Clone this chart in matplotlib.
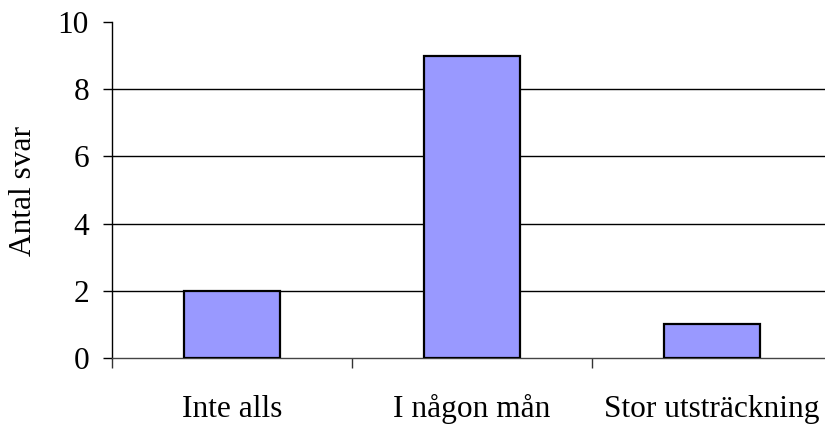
import matplotlib
matplotlib.use("Agg")
import matplotlib.pyplot as plt

categories = ["Inte alls", "I någon mån", "Stor utsträckning"]
values = [2, 9, 1]
yticks = [0, 2, 4, 6, 8, 10]

plt.rcParams["font.family"] = ["Liberation Serif", "DejaVu Serif"]
FS = 22.6

W, H = 825, 428
fig = plt.figure(figsize=(W / 100, H / 100), dpi=100)
ax = fig.add_axes([112 / W, 70 / H, 720 / W, 336 / H])

x = range(len(categories))
ax.bar(x, values, width=0.4, color="#9999FF", edgecolor="black", linewidth=1.6, zorder=3)

ax.set_xlim(-0.5, len(categories) - 0.5)
ax.set_ylim(0, 10)
ax.set_yticks(yticks)
for y in yticks[1:-1]:
    ax.axhline(y, color="black", linewidth=1.0, zorder=1)

ax.set_xticks(x)
ax.set_xticklabels(categories, fontsize=FS)
for lbl in ax.get_xticklabels():
    lbl.set_verticalalignment("baseline")
ax.set_xticks([i + 0.5 for i in range(-1, len(categories))], minor=True)
ax.tick_params(axis="x", which="major", length=0, pad=42.5)
ax.tick_params(axis="x", which="minor", length=7, width=1.0, color="#333333")
ax.tick_params(axis="y", length=6.5, width=1.0, pad=10, labelsize=FS)

fig.text(24 / W, 237 / H, "Antal svar", rotation=90, ha="center", va="center", fontsize=FS)

for side in ("top", "right"):
    ax.spines[side].set_visible(False)
ax.spines["left"].set_linewidth(1.0)
ax.spines["bottom"].set_linewidth(1.0)
ax.spines["bottom"].set_color("#444444")

fig.savefig("out.png", dpi=100)
